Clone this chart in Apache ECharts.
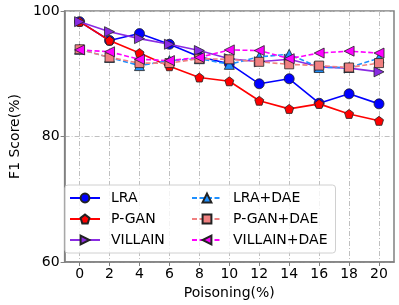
<!DOCTYPE html>
<html><head><meta charset="utf-8">
<script src="https://cdn.jsdelivr.net/npm/echarts@6/dist/echarts.min.js"></script>
<style>html,body{margin:0;padding:0;background:#fff}#c{width:399px;height:305px}</style>
</head><body><div id="c"></div>
<script>
const poisoning = [0, 2, 4, 6, 8, 10, 12, 14, 16, 18, 20];
const xTicks = [0, 2, 4, 6, 8, 10, 12, 14, 16, 18, 20];
const yTicks = [60, 80, 100];
const seriesNames = ['LRA', 'P-GAN', 'VILLAIN', 'LRA+DAE', 'P-GAN+DAE', 'VILLAIN+DAE'];
const lra       = [98.3, 95.3, 96.4, 94.7, 92.7, 91.6, 88.4, 89.2, 85.3, 86.8, 85.2];
const pgan      = [98.3, 95.3, 93.3, 91.2, 89.4, 88.8, 85.7, 84.4, 85.2, 83.6, 82.5];
const villain   = [98.3, 96.7, 95.6, 94.7, 93.7, 92.4, 91.9, 92.3, 91.1, 90.9, 90.3];
const lraDae    = [93.9, 92.6, 91.3, 92.1, 92.4, 91.5, 92.7, 93.1, 91.0, 91.0, 92.5];
const pganDae   = [93.9, 92.6, 91.7, 91.7, 92.4, 92.3, 91.9, 91.5, 91.3, 91.0, 91.7];
const villainDae= [93.8, 93.5, 92.3, 92.1, 92.6, 93.8, 93.7, 92.4, 93.3, 93.6, 93.3];

const RIGHT = 'path://M0,0 L10,5 L0,10 Z';
const LEFT = 'path://M10,0 L0,5 L10,10 Z';
const PENT = 'path://M5,0 L10,3.8 L8.1,10 L1.9,10 L0,3.8 Z';
const styles = [
  {color:'#0000ff', symbol:'circle', size:10, type:'solid'},
  {color:'#ff0000', symbol:PENT, size:9, type:'solid'},
  {color:'#8a2be2', symbol:RIGHT, size:10, type:'solid'},
  {color:'#1e90ff', symbol:'triangle', size:10, type:[5,2.5]},
  {color:'#f08080', symbol:'rect', size:9, type:[5,2.5]},
  {color:'#ff00ff', symbol:LEFT, size:10, type:[5,2.5]}
];
const dataSets = [lra, pgan, villain, lraDae, pganDae, villainDae];
const series = seriesNames.map((n, i) => ({
  name: n, type: 'line',
  data: poisoning.map((x, j) => [x, dataSets[i][j]]),
  symbol: styles[i].symbol, symbolSize: styles[i].size,
  lineStyle: {color: styles[i].color, width: 1.6, type: styles[i].type},
  itemStyle: {color: styles[i].color, borderColor: '#222', borderWidth: 0.8},
  z: 2 + i, animation: false
}));
const font = 'DejaVu Sans';
const chart = echarts.init(document.getElementById('c'), null, {renderer:'canvas'});
chart.setOption({
  backgroundColor: '#fff',
  animation: false,
  grid: {left: 56, right: 5, top: 11, bottom: 43, show: true, borderColor: '#808080', borderWidth: 1.5},
  xAxis: {
    type: 'value', min: -1, max: 21,
    name: 'Poisoning(%)', nameLocation: 'middle', nameGap: 22,
    nameTextStyle: {fontFamily: font, fontSize: 14, color: '#000'},
    axisLine: {show: true, onZero: false, lineStyle: {color: '#808080', width: 1.5}},
    axisTick: {show: true, length: 4, customValues: xTicks, lineStyle: {color: '#808080'}},
    axisLabel: {customValues: xTicks, fontFamily: font, fontSize: 14, color: '#000', margin: 5},
    splitLine: {show: true, lineStyle: {color: '#c0c0c0', type: [5, 2, 1, 2], width: 1}}
  },
  yAxis: {
    type: 'value', min: 60, max: 100, interval: 20,
    name: 'F1 Score(%)', nameLocation: 'middle', nameGap: 40,
    nameTextStyle: {fontFamily: font, fontSize: 14, color: '#000'},
    axisLine: {show: true, onZero: false, lineStyle: {color: '#808080', width: 1.5}},
    axisTick: {show: true, length: 4, lineStyle: {color: '#808080'}},
    axisLabel: {fontFamily: font, fontSize: 14, color: '#000', margin: 5},
    splitLine: {show: true, lineStyle: {color: '#c0c0c0', type: [5, 2, 1, 2], width: 1}}
  },
  legend: {
    orient: 'vertical', left: 65, top: 185, height: 60,
    data: seriesNames,
    itemWidth: 30, itemHeight: 11, itemGap: 5,
    padding: [5, 8, 5, 4],
    borderColor: '#d0d0d0', borderWidth: 1, borderRadius: 3,
    backgroundColor: 'rgba(255,255,255,0.8)',
    textStyle: {fontFamily: font, fontSize: 14, color: '#000', width: 75, lineHeight: 16, padding: [0, 0, 0, 6]}
  },
  series: series
});
</script></body></html>
